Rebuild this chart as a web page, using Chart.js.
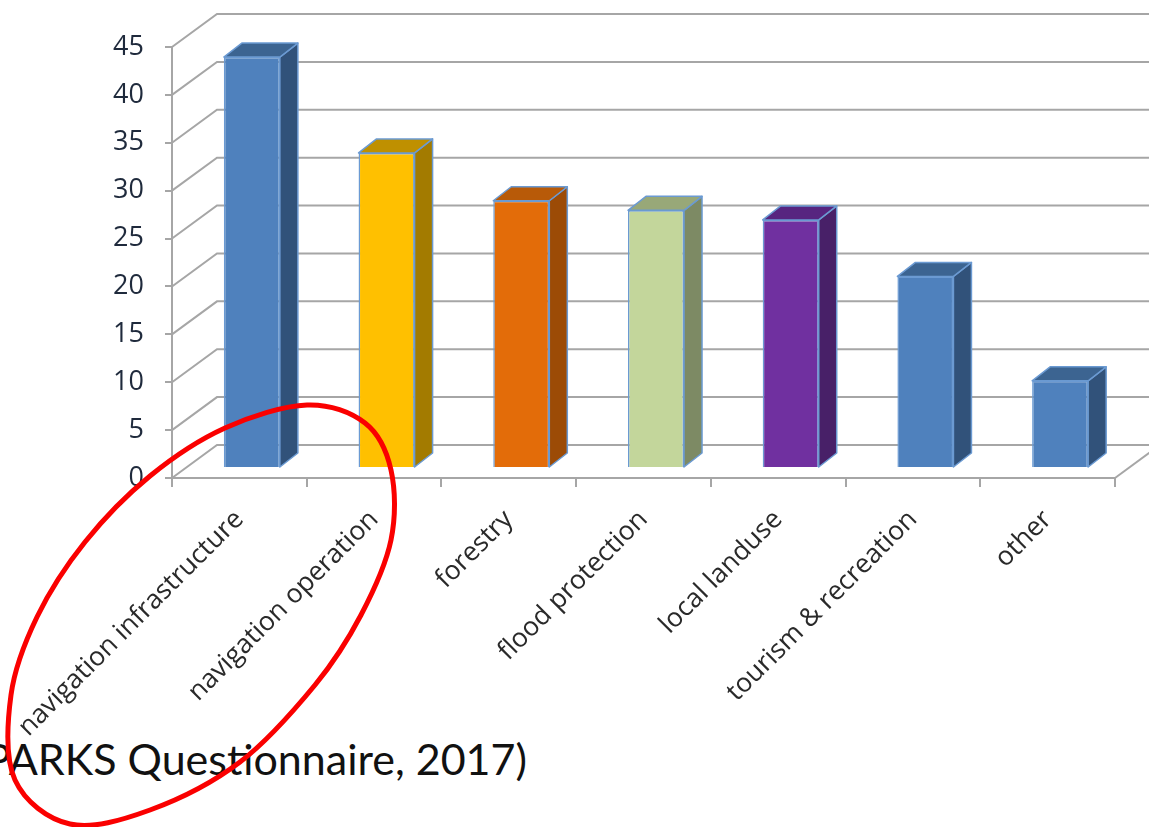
<!DOCTYPE html>
<html>
<head>
<meta charset="utf-8">
<style>
  html, body { margin: 0; padding: 0; background: #fff; overflow: hidden; }
  #wrap { position: relative; width: 1149px; height: 827px; overflow: hidden; }
  #source {
    position: absolute; left: -15px; top: 736px; white-space: nowrap;
    font-family: Lato, sans-serif; font-size: 43px; line-height: 46px; color: #111;
  }
  #chart { position: absolute; left: 0; top: 0; }
</style>
<script src="https://cdn.jsdelivr.net/npm/chart.js@4"></script>
</head>
<body>
<div id="wrap">
  <div id="source">PARKS Questionnaire, 2017)</div>
  <canvas id="chart" width="1149" height="827"></canvas>
</div>
<script>
// Chart data
const categories = ['navigation infrastructure', 'navigation operation', 'forestry', 'flood protection', 'local landuse', 'tourism & recreation', 'other'];
const responses = [42.9, 32.9, 27.9, 26.9, 25.9, 20, 9.1];

// Bar faces: front, side, top
const frontColors = ['#4f81bd', '#ffc000', '#e36c09', '#c3d69b', '#7030a0', '#4f81bd', '#4f81bd'];
const sideColors = ['#31527a', '#a37b00', '#9c4b06', '#7d8a64', '#482068', '#31527a', '#31527a'];
const topColors = ['#3c6491', '#bf9000', '#b85a08', '#98a878', '#572580', '#3c6491', '#3c6491'];

const gridColor = '#a6a6a6';
const edgeColor = '#6b9ad2';

// Depth of the wall and of one bar, in pixels
const wallDepth = { x: 45, y: -33 };
const barDepth = { x: 18, y: -14 };
const barShift = { x: 12.5, y: -10 };

// Outline of the hand drawn red circle (annotation, not data)
const circleOutline = [
  [307, 405], [365, 423], [391, 470], [391, 540], [361, 615], [315, 685], [240, 762], [150, 810],
  [70, 824], [15, 780], [11, 695], [37, 617], [85, 542], [150, 476], [225, 428],
];

// Back wall, floor and side wall lines
const wallsPlugin = {
  id: 'walls',
  beforeDatasetsDraw(chart) {
    const { ctx, scales, chartArea } = chart;
    ctx.save();
    ctx.strokeStyle = gridColor;
    ctx.lineWidth = 2;
    scales.y.ticks.forEach((tick) => {
      const y = scales.y.getPixelForValue(tick.value);
      ctx.beginPath();
      ctx.moveTo(chartArea.left, y);
      ctx.lineTo(chartArea.left + wallDepth.x, y + wallDepth.y);
      ctx.lineTo(chart.width, y + wallDepth.y);
      ctx.stroke();
    });
    ctx.beginPath();
    ctx.moveTo(chartArea.right, chartArea.bottom);
    ctx.lineTo(chartArea.right + wallDepth.x, chartArea.bottom + wallDepth.y);
    ctx.stroke();
    ctx.restore();
  },
};

// Side and top faces of the bars, then shift the fronts onto the same plane
const bars3dPlugin = {
  id: 'bars3d',
  beforeDatasetsDraw(chart) {
    const { ctx } = chart;
    ctx.save();
    ctx.translate(barShift.x, barShift.y);
    ctx.strokeStyle = edgeColor;
    ctx.lineWidth = 1.5;
    ctx.lineJoin = 'round';
    chart.getDatasetMeta(0).data.forEach((bar, i) => {
      const left = bar.x - bar.width / 2;
      const right = bar.x + bar.width / 2;

      ctx.fillStyle = sideColors[i];
      ctx.beginPath();
      ctx.moveTo(right, bar.y);
      ctx.lineTo(right + barDepth.x, bar.y + barDepth.y);
      ctx.lineTo(right + barDepth.x, bar.base + barDepth.y);
      ctx.lineTo(right, bar.base);
      ctx.closePath();
      ctx.fill();
      ctx.stroke();

      ctx.fillStyle = topColors[i];
      ctx.beginPath();
      ctx.moveTo(left, bar.y);
      ctx.lineTo(left + barDepth.x, bar.y + barDepth.y);
      ctx.lineTo(right + barDepth.x, bar.y + barDepth.y);
      ctx.lineTo(right, bar.y);
      ctx.closePath();
      ctx.fill();
      ctx.stroke();
    });
  },
  afterDatasetsDraw(chart) {
    chart.ctx.restore();
  },
};

// Closed Catmull-Rom curve through the outline
const circlePlugin = {
  id: 'circle',
  afterDraw(chart) {
    const { ctx } = chart;
    const pts = circleOutline;
    const n = pts.length;
    ctx.save();
    ctx.strokeStyle = '#fa0000';
    ctx.lineWidth = 5;
    ctx.beginPath();
    ctx.moveTo(pts[0][0], pts[0][1]);
    for (let i = 0; i < n; i++) {
      const p0 = pts[(i + n - 1) % n];
      const p1 = pts[i];
      const p2 = pts[(i + 1) % n];
      const p3 = pts[(i + 2) % n];
      ctx.bezierCurveTo(
        p1[0] + (p2[0] - p0[0]) / 6, p1[1] + (p2[1] - p0[1]) / 6,
        p2[0] - (p3[0] - p1[0]) / 6, p2[1] - (p3[1] - p1[1]) / 6,
        p2[0], p2[1]
      );
    }
    ctx.closePath();
    ctx.stroke();
    ctx.restore();
  },
};

new Chart(document.getElementById('chart'), {
  type: 'bar',
  data: {
    labels: categories,
    datasets: [
      {
        data: responses,
        backgroundColor: frontColors,
        borderColor: edgeColor,
        borderWidth: 1.5,
        categoryPercentage: 0.416,
        barPercentage: 1,
      },
    ],
  },
  plugins: [wallsPlugin, bars3dPlugin, circlePlugin],
  options: {
    responsive: false,
    animation: false,
    layout: { padding: { top: 47, right: 34, left: 0, bottom: 0 } },
    plugins: { legend: { display: false }, tooltip: { enabled: false } },
    scales: {
      y: {
        min: 0,
        max: 45,
        afterFit(scale) { scale.width = 172; },
        ticks: {
          stepSize: 5,
          padding: 21,
          color: '#1f2a3c',
          font: { family: 'Open Sans', size: 27 },
        },
        border: { color: gridColor, width: 2 },
        grid: { drawOnChartArea: false, color: gridColor, lineWidth: 2, tickLength: 7 },
      },
      x: {
        afterFit(scale) {
          // long rotated labels must not push the plot area to the right
          scale.height = 349;
          scale.paddingLeft = 0;
          scale.paddingRight = 0;
        },
        ticks: {
          autoSkip: false,
          minRotation: 45,
          maxRotation: 45,
          padding: 17,
          color: '#2a2a2a',
          font: { family: 'Open Sans', size: 26.5 },
        },
        border: { color: gridColor, width: 2 },
        grid: { drawOnChartArea: false, color: gridColor, lineWidth: 2, tickLength: 9 },
      },
    },
  },
});
</script>
</body>
</html>
